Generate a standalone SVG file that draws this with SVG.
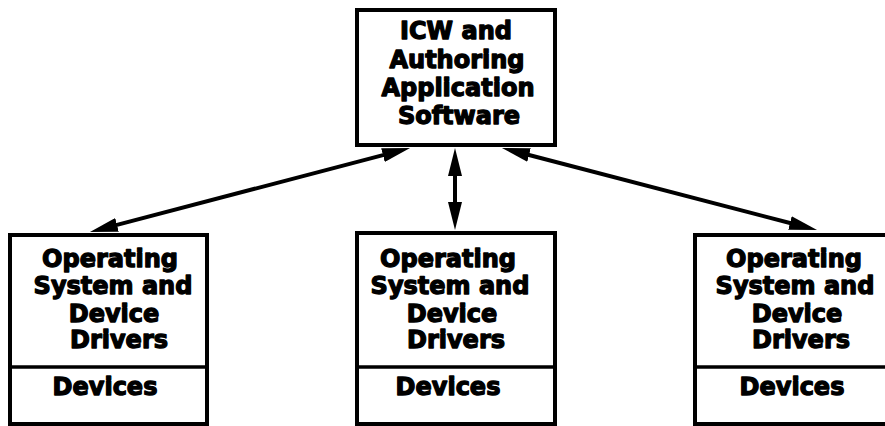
<svg xmlns="http://www.w3.org/2000/svg" width="885" height="426" viewBox="0 0 885 426">
<style>
.box{fill:#fff;stroke:#000;stroke-width:4}
.div{stroke:#000;stroke-width:3.5}
.t{font-family:"DejaVu Sans","Liberation Sans",sans-serif;font-weight:bold;font-size:24px;fill:#000;stroke:#000;stroke-width:1.3;stroke-linejoin:round;text-anchor:middle}
.conn{stroke:#000;stroke-width:4;fill:none;marker-start:url(#ah);marker-end:url(#ah)}
</style>
<defs>
<marker id="ah" markerUnits="userSpaceOnUse" markerWidth="28" markerHeight="14" refX="2" refY="7" orient="auto-start-reverse">
<path d="M0,0 L28,7 L0,14 z" fill="#000"/>
</marker>
</defs>
<rect width="885" height="426" fill="#fff"/>
<g id="connectors">
<line class="conn" x1="115.1" y1="225.4" x2="384.9" y2="154.6"/>
<line class="conn" x1="455" y1="174" x2="455" y2="204"/>
<line class="conn" x1="527.1" y1="154.5" x2="791.9" y2="223.5"/>
</g>
<g id="app">
<rect class="box" x="357" y="10" width="198" height="135"/>
<text class="t" x="456" y="39">ICW and</text>
<text class="t" x="457" y="67.5">Authoring</text>
<text class="t" x="458" y="96">Application</text>
<text class="t" x="459" y="124">Software</text>
</g>
<g id="os-left">
<rect class="box" x="10" y="235" width="197" height="189"/>
<line class="div" x1="10" y1="367" x2="207" y2="367"/>
<text class="t" x="110" y="267">Operating</text>
<text class="t" x="113" y="294">System and</text>
<text class="t" x="114" y="322">Device</text>
<text class="t" x="119" y="348">Drivers</text>
<text class="t" x="105" y="395">Devices</text>
</g>
<g id="os-middle">
<rect class="box" x="357" y="233" width="198" height="191"/>
<line class="div" x1="357" y1="367" x2="555" y2="367"/>
<text class="t" x="448" y="267">Operating</text>
<text class="t" x="450" y="294">System and</text>
<text class="t" x="452" y="322">Device</text>
<text class="t" x="456" y="348">Drivers</text>
<text class="t" x="448" y="395">Devices</text>
</g>
<g id="os-right">
<rect class="box" x="695" y="235" width="200" height="189"/>
<line class="div" x1="695" y1="367" x2="895" y2="367"/>
<text class="t" x="794" y="267">Operating</text>
<text class="t" x="795" y="294">System and</text>
<text class="t" x="797" y="322">Device</text>
<text class="t" x="801" y="348">Drivers</text>
<text class="t" x="792" y="395">Devices</text>
</g>
</svg>
